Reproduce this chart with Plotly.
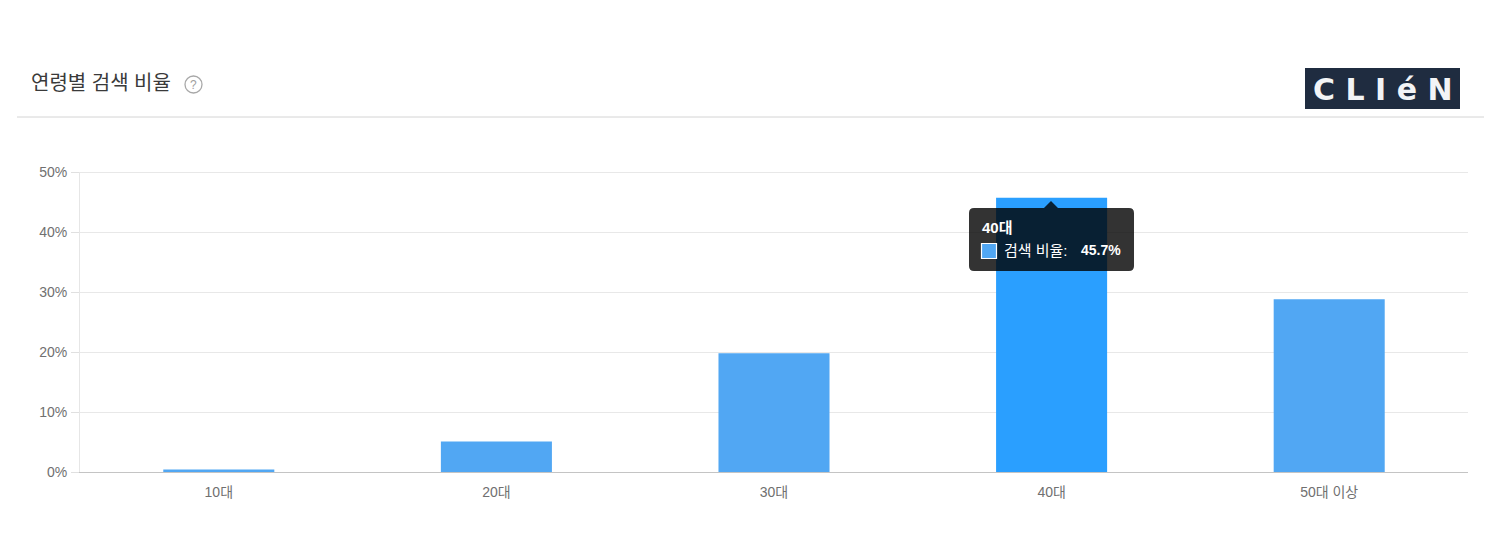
import plotly.graph_objects as go

categories = ["10대", "20대", "30대", "40대", "50대 이상"]
values = [0.4, 5.1, 19.8, 45.7, 28.8]
y_ticks = [0, 10, 20, 30, 40, 50]
y_labels = ["0%", "10%", "20%", "30%", "40%", "50%"]
title_text = "연령별 검색 비율"
series_name = "검색 비율"
active = "40대"
logo_text = "C L I é N"

W, H = 1496, 550
L, R, T, B = 80, 1468, 172, 472
KR = "Liberation Sans, Noto Sans CJK KR"


def px(x):
    return (x - L) / (R - L)


def py(y):
    return (B - y) / (B - T)


BASE = "#51a7f3"
HOT = "#2a9fff"
colors = [HOT if c == active else BASE for c in categories]

fig = go.Figure(go.Bar(x=categories, y=values, width=0.4, marker=dict(color=colors, line=dict(width=0)),
                       hoverinfo="skip"))


def rect(x0, y0, x1, y1, **kw):
    return dict(type="rect", xref="paper", yref="paper", x0=px(x0), x1=px(x1), y0=py(y0), y1=py(y1), **kw)


def text(x, y, s, size, color, anchor="left", **kw):
    return dict(xref="paper", yref="paper", x=px(x), y=py(y), text=s, showarrow=False, xanchor=anchor, yanchor="middle",
                font=dict(family=KR, size=size, color=color), **kw)


def tooltip_path(x0, y0, x1, y1, r, cx, tip, hw):
    pts = [(x0 + r, y0), (cx - hw, y0), (cx, tip), (cx + hw, y0), (x1 - r, y0)]
    s = "M" + " L".join(f"{px(a):.5f},{py(b):.5f}" for a, b in pts)
    s += f" Q{px(x1):.5f},{py(y0):.5f} {px(x1):.5f},{py(y0 + r):.5f}"
    s += f" L{px(x1):.5f},{py(y1 - r):.5f} Q{px(x1):.5f},{py(y1):.5f} {px(x1 - r):.5f},{py(y1):.5f}"
    s += f" L{px(x0 + r):.5f},{py(y1):.5f} Q{px(x0):.5f},{py(y1):.5f} {px(x0):.5f},{py(y1 - r):.5f}"
    s += f" L{px(x0):.5f},{py(y0 + r):.5f} Q{px(x0):.5f},{py(y0):.5f} {px(x0 + r):.5f},{py(y0):.5f} Z"
    return s


shapes = [
    rect(17, 117, 1484, 117, line=dict(color="#e2e2e2", width=1)),
    rect(1305, 68, 1460, 109, fillcolor="#1f2c40", line=dict(width=0)),
    dict(type="circle", xref="paper", yref="paper", x0=px(185), x1=px(202), y0=py(76), y1=py(93),
         line=dict(color="#a8a8a8", width=1.3)),
    dict(type="line", xref="paper", yref="y", x0=0, x1=1, y0=y_ticks[-1], y1=y_ticks[-1],
         line=dict(color="#e8e8e8", width=2), layer="below"),
    dict(type="path", xref="paper", yref="paper", path=tooltip_path(969, 208, 1134, 271, 5, 1051, 201, 7),
         fillcolor="rgba(0,0,0,0.8)", line=dict(width=0), layer="above"),
    rect(981.5, 243.5, 996.5, 258.5, fillcolor=BASE, line=dict(color="#ffffff", width=1.2), layer="above"),
]

idx = categories.index(active)
annotations = [
    text(28.5, 83, title_text, 20, "#3a3a3a"),
    text(193.5, 85, "?", 12, "#a0a0a0", anchor="center"),
    dict(xref="paper", yref="paper", x=px(1383), y=py(89), text=logo_text, showarrow=False, xanchor="center",
         yanchor="middle", font=dict(family="DejaVu Sans", size=30, color="#f2f4f6", weight="bold")),
    text(979.5, 227, f"<b>{categories[idx]}</b>", 15, "#ffffff"),
    text(1001.5, 250, f"{series_name}:", 15, "#ffffff"),
    text(1078.5, 250, f"<b>{values[idx]}%</b>", 14, "#ffffff"),
]

fig.update_layout(
    width=W, height=H, margin=dict(l=L, r=W - R, t=T, b=H - B),
    paper_bgcolor="#ffffff", plot_bgcolor="#ffffff", showlegend=False,
    font=dict(family=KR, size=14, color="#666666"),
    shapes=shapes, annotations=annotations,
    xaxis=dict(type="category", showgrid=False, ticks="", showline=True, linecolor="#c4c4c4", linewidth=1,
               tickfont=dict(size=14, color="#707070"), ticklabelstandoff=7, zeroline=False),
    yaxis=dict(range=[0, 50], tickvals=y_ticks, ticktext=y_labels, gridcolor="#e8e8e8", gridwidth=1,
               showline=True, linecolor="#e6e6e6", linewidth=1, ticks="outside", ticklen=8, tickcolor="#e0e0e0",
               ticklabelstandoff=1, tickfont=dict(size=14, color="#707070"), zeroline=False),
)

fig.write_html("out.html", config={"displayModeBar": False},
               post_script="document.body.style.margin='0';document.documentElement.style.overflow='hidden';")
